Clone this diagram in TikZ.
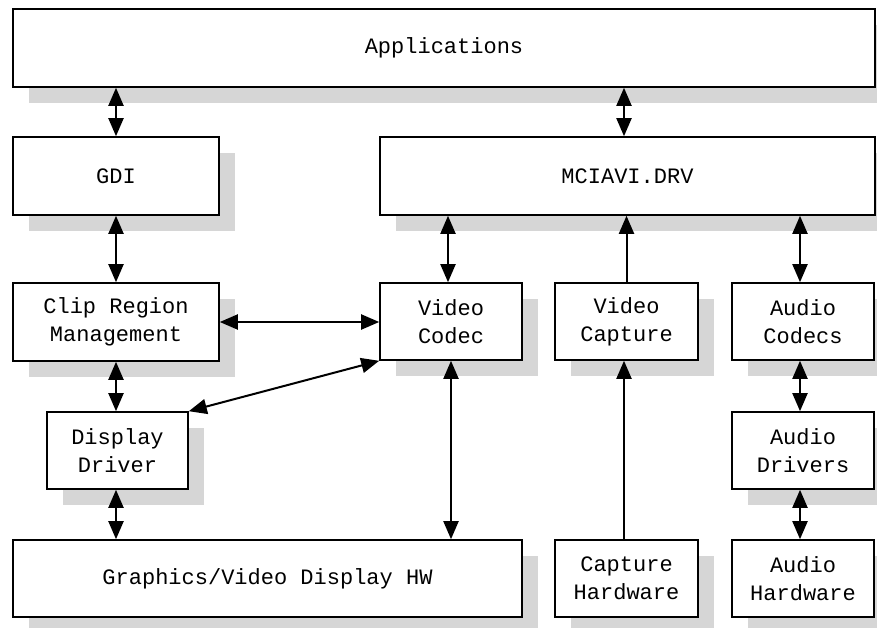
\documentclass[tikz,border=0pt]{standalone}
\usepackage{fontspec}
\setmonofont{Liberation Mono}
\usetikzlibrary{arrows.meta,shadows,calc}

\tikzset{
  blk/.style={draw=black, line width=1.6pt, fill=white, inner sep=0pt,
    align=center, font=\ttfamily\fontsize{22}{28}\selectfont,
    drop shadow={shadow xshift=16pt, shadow yshift=-16pt, fill=gray!32, opacity=1}},
  tip/.tip={Triangle[length=18pt,width=15pt]},
  link/.style={line width=2pt, tip-tip},
  uplink/.style={line width=2pt, -tip}
}

\begin{document}
\begin{tikzpicture}[x=1pt,y=-1pt]
\useasboundingbox (0,0) rectangle (877,628);
\clip (0,0) rectangle (877,628);

% layered software blocks
\node[blk, minimum width=862pt, minimum height=78pt] (apps) at (444,48) {Applications};
\node[blk, minimum width=206pt, minimum height=78pt] (gdi) at (116,176) {GDI};
\node[blk, minimum width=495pt, minimum height=78pt] (mci) at (627.5,176) {MCIAVI.DRV};
\node[blk, minimum width=206pt, minimum height=78pt] (clip) at (116,322) {Clip Region\\Management};
\node[blk, minimum width=142pt, minimum height=77pt] (vcodec) at (451,321.5) {Video\\Codec};
\node[blk, minimum width=143pt, minimum height=77pt] (vcap) at (626.5,321.5) {Video\\Capture};
\node[blk, minimum width=142pt, minimum height=77pt] (acodec) at (803,321.5) {Audio\\Codecs};
\node[blk, minimum width=141pt, minimum height=77pt] (disp) at (117.5,450.5) {Display\\Driver};
\node[blk, minimum width=142pt, minimum height=77pt] (adrv) at (803,450.5) {Audio\\Drivers};

% hardware blocks
\node[blk, minimum width=509pt, minimum height=77pt] (ghw) at (267.5,578.5) {Graphics/Video Display HW};
\node[blk, minimum width=143pt, minimum height=77pt] (caphw) at (626.5,578.5) {Capture\\Hardware};
\node[blk, minimum width=142pt, minimum height=77pt] (audhw) at (803,578.5) {Audio\\Hardware};

% connections
\draw[link] (gdi.north |- apps.south) -- (gdi.north);
\draw[link] ($(vcap.north |- apps.south)+(-2.5,0)$) -- ($(vcap.north |- mci.north)+(-2.5,0)$);
\draw[link] ($(vcodec.north |- mci.south)+(-3,0)$) -- ($(vcodec.north)+(-3,0)$);
\draw[uplink] (vcap.north) -- (vcap.north |- mci.south);
\draw[link] ($(acodec.north |- mci.south)+(-3,0)$) -- ($(acodec.north)+(-3,0)$);
\draw[link] (gdi.south) -- (clip.north);
\draw[link] (clip.south) -- (clip.south |- disp.north);
\draw[link] (clip.south |- disp.south) -- (clip.south |- ghw.north);
\draw[link] (clip.east) -- (clip.east -| vcodec.west);
\draw[link] (disp.north east) -- (vcodec.south west);
\draw[link] (vcodec.south) -- (vcodec.south |- ghw.north);
\draw[uplink] ($(caphw.north)+(-2.5,0)$) -- ($(vcap.south)+(-2.5,0)$);
\draw[link] ($(acodec.south)+(-3,0)$) -- ($(adrv.north)+(-3,0)$);
\draw[link] ($(adrv.south)+(-3,0)$) -- ($(audhw.north)+(-3,0)$);
\end{tikzpicture}
\end{document}
